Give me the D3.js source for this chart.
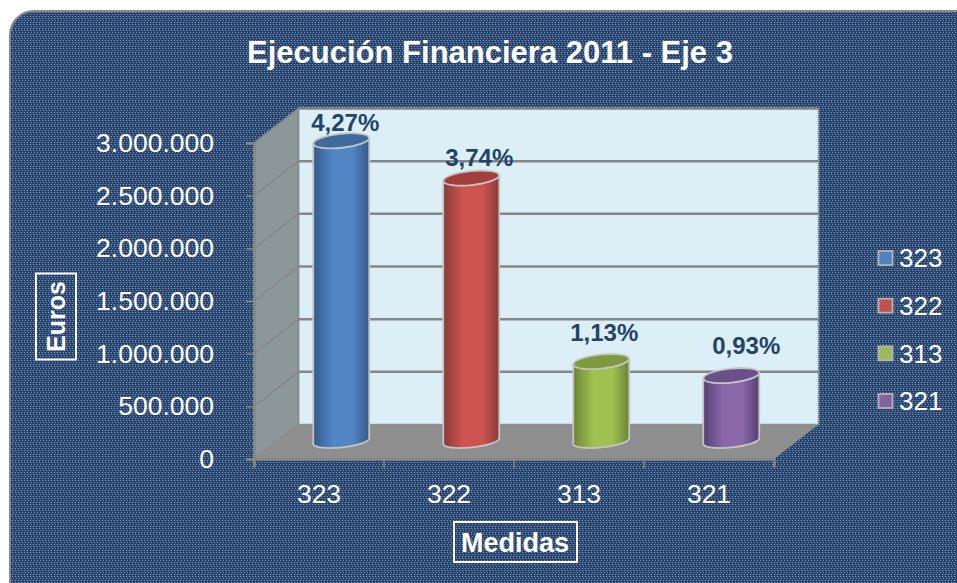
<!DOCTYPE html>
<html>
<head>
<meta charset="utf-8">
<title>Ejecución Financiera 2011 - Eje 3</title>
<script src="https://cdn.jsdelivr.net/npm/d3@7/dist/d3.min.js"></script>
<style>
  html, body { margin: 0; padding: 0; background: #fff; }
  svg { display: block; font-family: "Liberation Sans", Arial, sans-serif; }
</style>
</head>
<body>
<svg id="chart" width="957" height="583"></svg>
<script>
// data
const categories = ["323", "322", "313", "321"];
const values = [2850000, 2496000, 754000, 621000];
const percentLabels = ["4,27%", "3,74%", "1,13%", "0,93%"];
const yTicks = [0, 500000, 1000000, 1500000, 2000000, 2500000, 3000000];

// colours per bar: edge of the cylinder, middle, top face
const barEdge = ["#345a8a", "#863b38", "#6b8436", "#563f74"];
const barMid = ["#5285c6", "#cf5350", "#a0c04f", "#8a68a9"];
const barTop = ["#3f6a9c", "#a23f3c", "#7f9a3e", "#6a4f8a"];
const legendColors = ["#4f81bd", "#c0504d", "#9bbb59", "#8064a2"];

// the author moved the percent labels by hand
const labelDx = [4, 8, 3, 15];
const labelDy = [-18, -21, -29, -30];

const svg = d3.select("#chart");
const defs = svg.append("defs");

const depthX = 44.5, depthY = -34.5;
const x = d3.scaleBand().domain(categories).range([254, 774]);
const y = d3.scaleLinear().domain([0, 3000000]).range([459, 143]);
const wallX = x.range()[0] + depthX, wallRight = x.range()[1] + depthX;

// woven background
const pat = defs.append("pattern").attr("id", "weave")
  .attr("patternUnits", "userSpaceOnUse").attr("width", 6).attr("height", 6);
pat.append("rect").attr("width", 6).attr("height", 6).attr("fill", "#25426c");
[[0, 0], [3, 0], [1, 2], [4, 2], [0, 4], [3, 4]].forEach(function(p) {
  pat.append("rect").attr("x", p[0]).attr("y", p[1]).attr("width", 1).attr("height", 1).attr("fill", "#7f97b4");
});
[[1, 0], [4, 0], [2, 4], [5, 4]].forEach(function(p) {
  pat.append("rect").attr("x", p[0]).attr("y", p[1]).attr("width", 1).attr("height", 1).attr("fill", "#3f5c84");
});

categories.forEach(function(c, i) {
  const g = defs.append("linearGradient").attr("id", "bar" + i);
  g.append("stop").attr("offset", "0%").attr("stop-color", barEdge[i]);
  g.append("stop").attr("offset", "35%").attr("stop-color", barMid[i]);
  g.append("stop").attr("offset", "70%").attr("stop-color", barMid[i]);
  g.append("stop").attr("offset", "100%").attr("stop-color", barEdge[i]);
});

// panel
svg.append("rect").attr("x", 10).attr("y", 11).attr("width", 980).attr("height", 600).attr("rx", 24)
  .attr("fill", "url(#weave)").attr("stroke", "#8a8a8a").attr("stroke-width", 2);

svg.append("text").attr("x", 490).attr("y", 63).attr("text-anchor", "middle")
  .attr("font-size", 31).attr("font-weight", "bold").attr("fill", "#fff")
  .text("Ejecución Financiera 2011 - Eje 3");

// back wall, side wall, floor
const y0 = y(0), yMax = y(3000000), x0 = x.range()[0], x1 = x.range()[1];
svg.append("rect").attr("x", wallX).attr("y", yMax + depthY)
  .attr("width", wallRight - wallX).attr("height", y0 - yMax)
  .attr("fill", "#dceff7").attr("stroke", "#8c9aa4").attr("stroke-width", 1.5);
svg.append("polygon")
  .attr("points", [[x0, yMax], [wallX, yMax + depthY], [wallX, y0 + depthY], [x0, y0]].join(" "))
  .attr("fill", "#8b9799").attr("stroke", "#8a8a8a").attr("stroke-width", 1.5);
svg.append("polygon")
  .attr("points", [[x0, y0], [x1, y0], [wallRight, y0 + depthY], [wallX, y0 + depthY]].join(" "))
  .attr("fill", "#8e8e8e");

// grid lines on both walls
const grid = yTicks.filter(function(t) { return t > 0; });
svg.append("g").selectAll("line.back").data(grid).join("line").attr("class", "back")
  .attr("x1", wallX).attr("x2", wallRight)
  .attr("y1", function(d) { return y(d) + depthY; })
  .attr("y2", function(d) { return y(d) + depthY; })
  .attr("stroke", "#868686").attr("stroke-width", 2.5);
svg.append("g").selectAll("line.side").data(grid).join("line").attr("class", "side")
  .attr("x1", x0).attr("x2", wallX)
  .attr("y1", function(d) { return y(d); })
  .attr("y2", function(d) { return y(d) + depthY; })
  .attr("stroke", "#868686").attr("stroke-width", 1.5);

// axes
const thousands = d3.formatLocale({ decimal: ",", thousands: ".", grouping: [3], currency: ["", "€"] }).format(",d");
const yAxis = svg.append("g").attr("transform", "translate(" + x0 + ",0)")
  .call(d3.axisLeft(y).tickValues(yTicks).tickFormat(thousands).tickSize(8).tickPadding(32));
const xAxis = svg.append("g").attr("transform", "translate(0," + y0 + ")")
  .call(d3.axisBottom(x).tickSize(8).tickPadding(17).tickFormat(String));
// ticks go on the band edges, not the centres
xAxis.selectAll(".tick line").remove();
xAxis.selectAll("line.edge").data(x.domain().concat(["end"])).join("line").attr("class", "edge")
  .attr("x1", function(d, i) { return x0 + i * x.bandwidth(); })
  .attr("x2", function(d, i) { return x0 + i * x.bandwidth(); })
  .attr("y1", 0).attr("y2", 9).attr("stroke", "#868686").attr("stroke-width", 1.5);
[yAxis, xAxis].forEach(function(a) {
  a.selectAll(".domain").attr("stroke", "#868686").attr("stroke-width", 2.5);
  a.selectAll(".tick line").attr("stroke", "#868686").attr("stroke-width", 1.5);
  a.selectAll("text").attr("font-size", 26.5).attr("fill", "#fff")
    .attr("font-family", '"Liberation Sans", Arial, sans-serif');
});

// cylinders
const rx = 28, ry = 6.5, tilt = -6, rise = 3;
const baseLift = 18;
const bars = svg.append("g").selectAll("g").data(values).join("g");
bars.append("path")
  .attr("d", function(d, i) {
    const cx = x(categories[i]) + x.bandwidth() / 2 + depthX / 2;
    const top = y(d) - baseLift, bot = y0 - baseLift;
    return "M" + (cx - rx) + "," + (top + rise) + "A" + rx + "," + ry + " " + tilt + " 0 0 " + (cx + rx) + "," + (top - rise)
      + "L" + (cx + rx) + "," + (bot - rise)
      + "A" + rx + "," + ry + " " + tilt + " 0 1 " + (cx - rx) + "," + (bot + rise) + "Z";
  })
  .attr("fill", function(d, i) { return "url(#bar" + i + ")"; })
  .attr("stroke", "#c4c4c4").attr("stroke-width", 1.8);
bars.append("ellipse")
  .attr("rx", rx).attr("ry", ry + 0.5)
  .attr("transform", function(d, i) {
    const cx = x(categories[i]) + x.bandwidth() / 2 + depthX / 2;
    return "translate(" + cx + "," + (y(d) - baseLift) + ") rotate(" + tilt + ")";
  })
  .attr("fill", function(d, i) { return barTop[i]; })
  .attr("stroke", "#c4c4c4").attr("stroke-width", 1.8);

// percent labels
svg.append("g").selectAll("text").data(values).join("text")
  .attr("x", function(d, i) { return x(categories[i]) + x.bandwidth() / 2 + depthX / 2 + labelDx[i]; })
  .attr("y", function(d, i) { return y(d) - baseLift + labelDy[i]; })
  .attr("dy", "0.36em").attr("text-anchor", "middle")
  .attr("font-size", 24).attr("font-weight", "bold").attr("fill", "#234369")
  .text(function(d, i) { return percentLabels[i]; });

// legend
const legendY = d3.scalePoint().domain(categories).range([258, 401]);
const legend = svg.append("g").selectAll("g").data(categories).join("g")
  .attr("transform", function(d) { return "translate(878," + legendY(d) + ")"; });
legend.append("rect").attr("x", 0.5).attr("y", -7).attr("width", 14).attr("height", 14)
  .attr("fill", function(d, i) { return legendColors[i]; })
  .attr("stroke", "#b4b4b4").attr("stroke-width", 1.8);
legend.append("text").attr("x", 21).attr("dy", "0.36em")
  .attr("font-size", 26).attr("fill", "#fff").text(function(d) { return d; });

// axis titles in their white boxes
svg.append("rect").attr("x", 36).attr("y", 273.5).attr("width", 40).attr("height", 86)
  .attr("fill", "none").attr("stroke", "#fff").attr("stroke-width", 2);
svg.append("text").attr("transform", "translate(56,316.5) rotate(-90)")
  .attr("text-anchor", "middle").attr("dy", "0.36em")
  .attr("font-size", 25).attr("font-weight", "bold").attr("fill", "#fff").text("Euros");
svg.append("rect").attr("x", 454).attr("y", 522).attr("width", 123).attr("height", 40)
  .attr("fill", "none").attr("stroke", "#fff").attr("stroke-width", 2);
svg.append("text").attr("x", 515).attr("y", 542).attr("text-anchor", "middle").attr("dy", "0.36em")
  .attr("font-size", 27).attr("font-weight", "bold").attr("fill", "#fff").text("Medidas");
</script>
</body>
</html>
